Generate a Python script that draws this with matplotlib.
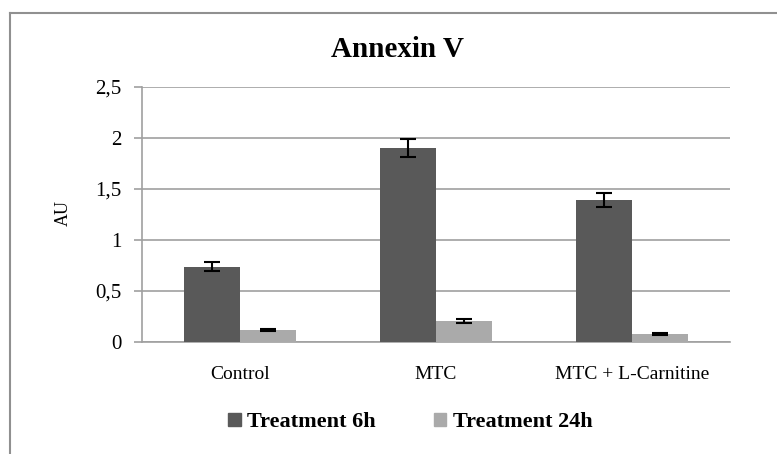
import numpy as np
import matplotlib
matplotlib.use('Agg')
import matplotlib.pyplot as plt
from matplotlib.lines import Line2D

categories = ['Control', 'MTC', 'MTC + L-Carnitine']
treat_6h = [0.74, 1.90, 1.39]
err_6h = [0.04, 0.09, 0.07]
treat_24h = [0.12, 0.21, 0.08]
err_24h = [0.01, 0.02, 0.01]
yticks = [0, 0.5, 1, 1.5, 2, 2.5]
ytick_labels = ['0', '0,5', '1', '1,5', '2', '2,5']

plt.rcParams['font.family'] = ['Liberation Serif', 'DejaVu Serif']

fig = plt.figure(figsize=(7.77, 4.54), dpi=100)
ax = fig.add_axes([0.1828, 0.2467, 0.7567, 0.5617])

x = np.arange(len(categories))
w = 0.285
ax.bar(x - w / 2, treat_6h, w, color='#595959', label='Treatment 6h', zorder=3)
ax.bar(x + w / 2, treat_24h, w, color='#aaaaaa', label='Treatment 24h', zorder=3)
ax.errorbar(x - w / 2, treat_6h, yerr=err_6h, fmt='none', ecolor='black',
            elinewidth=1.5, capsize=6, capthick=1.5, zorder=4)
ax.errorbar(x + w / 2, treat_24h, yerr=err_24h, fmt='none', ecolor='black',
            elinewidth=1.5, capsize=6, capthick=1.5, zorder=4)

ax.set_xlim(-0.5, 2.5)
ax.set_ylim(0, 2.5)
ax.set_yticks(yticks)
ax.set_yticklabels(ytick_labels, fontsize=15)
ax.set_xticks(x)
ax.set_xticklabels(categories, fontsize=14)
ax.tick_params(axis='x', length=0, pad=17)
ax.tick_params(axis='y', length=6, color='#a0a0a0', width=1.2, pad=9)
ax.yaxis.grid(True, color='#a0a0a0', linewidth=1.2, zorder=0)
for s in ['top', 'right']:
    ax.spines[s].set_visible(False)
for s in ['left', 'bottom']:
    ax.spines[s].set_color('#a0a0a0')
    ax.spines[s].set_linewidth(1.2)

ax.set_ylabel('AU', fontsize=13)
ax.yaxis.set_label_coords(-0.119, 0.506)
fig.text(0.511, 0.891, 'Annexin V', ha='center', va='center',
         fontsize=21, fontweight='bold')

handles = [plt.Rectangle((0, 0), 1, 1, color='#595959'),
           plt.Rectangle((0, 0), 1, 1, color='#aaaaaa')]
fig.legend(handles, ['Treatment 6h', 'Treatment 24h'], loc='center',
           bbox_to_anchor=(0.528, 0.07), ncol=2, frameon=False,
           prop={'weight': 'bold', 'size': 16}, handlelength=0.55,
           handleheight=0.55, columnspacing=2.6, handletextpad=0.3)

# outer chart frame (left and top edges only visible)
fig.add_artist(Line2D([0.013, 0.013], [0.0, 0.971], color='#909090', lw=1.5))
fig.add_artist(Line2D([0.013, 1.0], [0.971, 0.971], color='#909090', lw=1.5))

fig.savefig('out.png', dpi=100)
